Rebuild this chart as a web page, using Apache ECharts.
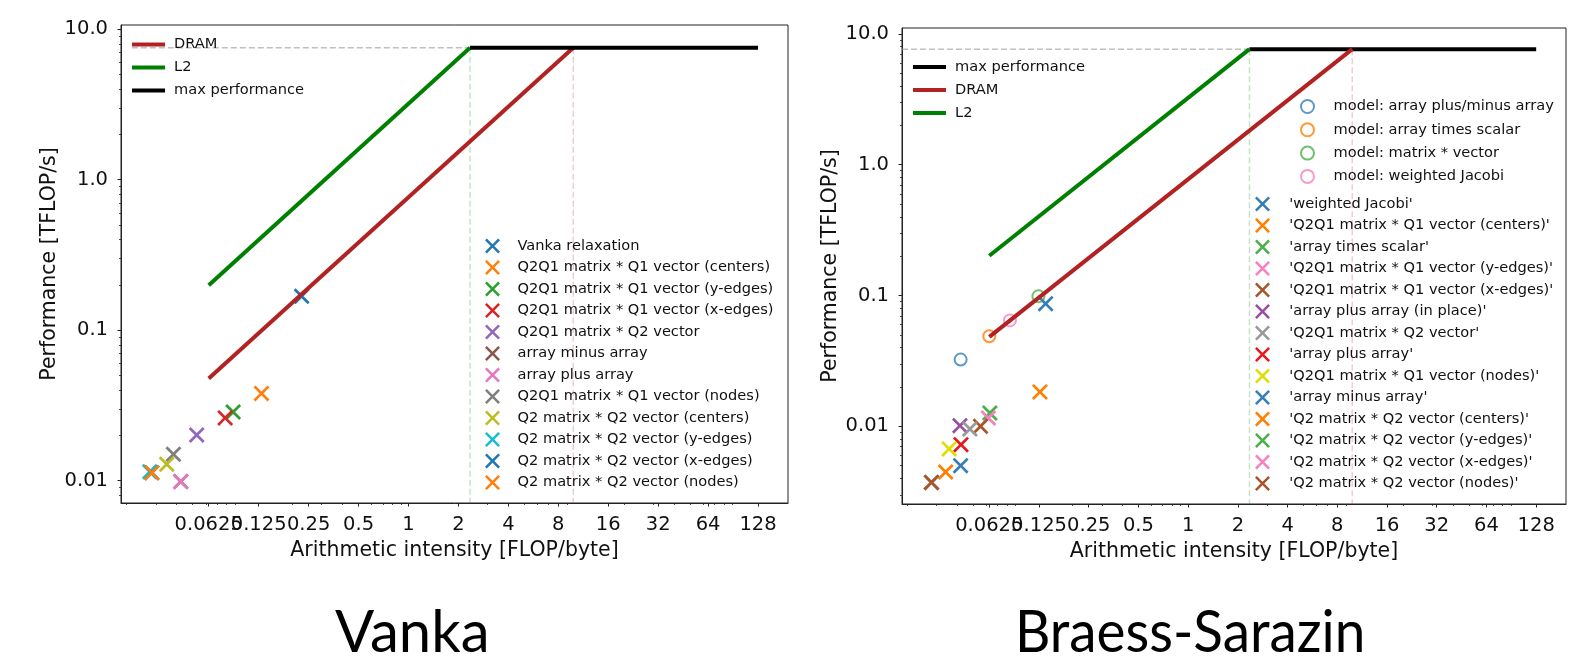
<!DOCTYPE html>
<html><head><meta charset="utf-8">
<script src="https://cdn.jsdelivr.net/npm/echarts@6/dist/echarts.min.js"></script>
<style>html,body{margin:0;padding:0;background:#fff;} #c{width:1585px;height:667px;}</style>
</head><body><div id="c"></div>
<script>
// ---------------- data ----------------
const xTickValues = [0.0625, 0.125, 0.25, 0.5, 1, 2, 4, 8, 16, 32, 64, 128];
const xTickLabels = ['0.0625', '0.125', '0.25', '0.5', '1', '2', '4', '8', '16', '32', '64', '128'];
const xMinorTicks = [0.02, 0.03, 0.04, 0.05, 0.06, 0.07, 0.08, 0.09,
  0.2, 0.3, 0.4, 0.5, 0.6, 0.7, 0.8, 0.9, 2, 3, 4, 5, 6, 7, 8, 9,
  20, 30, 40, 50, 60, 70, 80, 90];
const yTickValues = [0.01, 0.1, 1, 10];
const yTickLabels = ['0.01', '0.1', '1.0', '10.0'];
const yMinorTicksVanka = [0.008, 0.009, 0.02, 0.03, 0.04, 0.05, 0.06, 0.07, 0.08, 0.09,
  0.2, 0.3, 0.4, 0.5, 0.6, 0.7, 0.8, 0.9, 2, 3, 4, 5, 6, 7, 8, 9];
const yMinorTicksBS = [0.003, 0.004, 0.005, 0.006, 0.007, 0.008, 0.009, 0.02, 0.03, 0.04, 0.05, 0.06, 0.07, 0.08, 0.09,
  0.2, 0.3, 0.4, 0.5, 0.6, 0.7, 0.8, 0.9, 2, 3, 4, 5, 6, 7, 8, 9];

const xRange = [0.0185, 194];
const vankaYRange = [0.0071, 10.68];
const bsYRange = [0.00255, 11.1];

// Vanka rooflines
const vankaDram = [[0.0625, 0.0478], [9.85, 7.55]];
const vankaL2 = [[0.0625, 0.199], [2.35, 7.55]];
const vankaMax = [[2.35, 7.55], [128, 7.55]];
const vankaPeakGuide = [[0.0215, 7.55], [2.35, 7.55]];
const vankaL2Guide = [[2.35, 7.55], [2.35, 0.0071]];
const vankaDramGuide = [[9.85, 7.55], [9.85, 0.0071]];

// Vanka measurements
const vankaNames = ['Vanka relaxation', 'Q2Q1 matrix * Q1 vector (centers)', 'Q2Q1 matrix * Q1 vector (y-edges)',
  'Q2Q1 matrix * Q1 vector (x-edges)', 'Q2Q1 matrix * Q2 vector', 'array minus array', 'array plus array',
  'Q2Q1 matrix * Q1 vector (nodes)', 'Q2 matrix * Q2 vector (centers)', 'Q2 matrix * Q2 vector (y-edges)',
  'Q2 matrix * Q2 vector (x-edges)', 'Q2 matrix * Q2 vector (nodes)'];
const vankaX = [0.227, 0.130, 0.0877, 0.0785, 0.0529, 0.0424, 0.0424, 0.0383, 0.0349, 0.0276, 0.0284, 0.0284];
const vankaY = [0.168, 0.0380, 0.0286, 0.0261, 0.0201, 0.00985, 0.00985, 0.01497, 0.01285, 0.01145, 0.0113, 0.0113];
const vankaColors = ['#1f77b4', '#ff7f0e', '#2ca02c', '#d62728', '#9467bd', '#8c564b', '#e377c2',
  '#7f7f7f', '#bcbd22', '#17becf', '#1f77b4', '#ff7f0e'];

// Braess-Sarazin rooflines
const bsDram = [[0.0625, 0.0483], [9.85, 7.65]];
const bsL2 = [[0.0625, 0.2014], [2.35, 7.65]];
const bsMax = [[2.35, 7.65], [128, 7.65]];
const bsPeakGuide = [[0.0185, 7.65], [2.35, 7.65]];
const bsL2Guide = [[2.35, 7.65], [2.35, 0.00255]];
const bsDramGuide = [[9.85, 7.65], [9.85, 0.00255]];

// Braess-Sarazin model points
const modelNames = ['model: array plus/minus array', 'model: array times scalar', 'model: matrix * vector', 'model: weighted Jacobi'];
const modelX = [0.0419, 0.0625, 0.1239, 0.0833];
const modelY = [0.0324, 0.0488, 0.0986, 0.0646];

// Braess-Sarazin measurements
const bsNames = ["'weighted Jacobi'", "'Q2Q1 matrix * Q1 vector (centers)'", "'array times scalar'",
  "'Q2Q1 matrix * Q1 vector (y-edges)'", "'Q2Q1 matrix * Q1 vector (x-edges)'", "'array plus array (in place)'",
  "'Q2Q1 matrix * Q2 vector'", "'array plus array'", "'Q2Q1 matrix * Q1 vector (nodes)'", "'array minus array'",
  "'Q2 matrix * Q2 vector (centers)'", "'Q2 matrix * Q2 vector (y-edges)'", "'Q2 matrix * Q2 vector (x-edges)'",
  "'Q2 matrix * Q2 vector (nodes)'"];
const bsX = [0.137, 0.1266, 0.0630, 0.0617, 0.0553, 0.0415, 0.0477, 0.0421, 0.0357, 0.0419, 0.0340, 0.0279, 0.0279, 0.0279];
const bsY = [0.0867, 0.01833, 0.01266, 0.01159, 0.0100, 0.01012, 0.00955, 0.00725, 0.00672, 0.00501, 0.00448, 0.00373, 0.00373, 0.00373];
const cbColors = ['#377eb8', '#ff7f00', '#4daf4a', '#f781bf', '#a65628', '#984ea3', '#999999', '#e41a1c', '#dede00'];

// ---------------- styles ----------------
const FONT = 'DejaVu Sans';
const TXT = '#111';
const XSYM = 'path://M0,1.2 L1.2,0 L5,3.8 L8.8,0 L10,1.2 L6.2,5 L10,8.8 L8.8,10 L5,6.2 L1.2,10 L0,8.8 L3.8,5 Z';
const LINEICON = 'path://M0,0 L33,0 L33,4 L0,4 Z';

// labels split over two overlaid axes so the overlapping pair is not auto-hidden
const xLabelsEven = xTickValues.filter(function (v, i) { return i % 2 === 0; });
const xLabelsOdd = xTickValues.filter(function (v, i) { return i % 2 === 1; });

function labelFor(values, labels) {
  return function (v) {
    let best = 0, bd = Infinity;
    for (let i = 0; i < values.length; i++) {
      const d = Math.abs(Math.log(v) - Math.log(values[i]));
      if (d < bd) { bd = d; best = i; }
    }
    return bd < 1e-3 ? labels[best] : '';
  };
}
const xLabelStyle = { fontSize: 19.5, fontFamily: FONT, color: TXT, margin: 12, hideOverlap: false,
  showMinLabel: true, showMaxLabel: true, formatter: labelFor(xTickValues, xTickLabels) };

function mainX(gi, name) {
  return {
    gridIndex: gi, type: 'log', logBase: 2, min: xRange[0], max: xRange[1], position: 'bottom',
    axisLine: { show: true, lineStyle: { color: '#222', width: 1 } },
    axisTick: { show: true, length: 3.5, customValues: xTickValues, lineStyle: { color: '#222', width: 1 } },
    axisLabel: Object.assign({ show: true, customValues: xLabelsEven }, xLabelStyle),
    splitLine: { show: false }, minorTick: { show: false }, minorSplitLine: { show: false },
    name: name, nameLocation: 'middle', nameGap: 32,
    nameTextStyle: { fontSize: 20.5, fontFamily: FONT, color: TXT }
  };
}
function minorX(gi) {
  return {
    gridIndex: gi, type: 'log', logBase: 2, min: xRange[0], max: xRange[1], position: 'bottom',
    axisLine: { show: false },
    axisTick: { show: true, length: 2, customValues: xMinorTicks, lineStyle: { color: '#222', width: 0.8 } },
    axisLabel: Object.assign({ show: true, customValues: xLabelsOdd }, xLabelStyle),
    splitLine: { show: false }
  };
}
function mainY(gi, range, name) {
  return {
    gridIndex: gi, type: 'log', logBase: 10, min: range[0], max: range[1], position: 'left',
    axisLine: { show: true, lineStyle: { color: '#222', width: 1 } },
    axisTick: { show: true, length: 3.5, customValues: yTickValues, lineStyle: { color: '#222', width: 1 } },
    axisLabel: { show: true, customValues: yTickValues, formatter: labelFor(yTickValues, yTickLabels),
      fontSize: 19.5, fontFamily: FONT, color: TXT, margin: 13, showMinLabel: true, showMaxLabel: true },
    splitLine: { show: false }, minorTick: { show: false },
    name: name, nameLocation: 'middle', nameGap: 61,
    nameTextStyle: { fontSize: 20.5, fontFamily: FONT, color: TXT }
  };
}
function minorY(gi, range, ticks) {
  return {
    gridIndex: gi, type: 'log', logBase: 10, min: range[0], max: range[1], position: 'left',
    axisLine: { show: false },
    axisTick: { show: true, length: 2, customValues: ticks, lineStyle: { color: '#222', width: 0.8 } },
    axisLabel: { show: false }, splitLine: { show: false }
  };
}

function lineSeries(name, data, color, xi, yi) {
  return { type: 'line', name: name, data: data, xAxisIndex: xi, yAxisIndex: yi, symbol: 'none',
    lineStyle: { color: color, width: 4 }, itemStyle: { color: color }, z: 4, silent: true, animation: false };
}
function guideSeries(data, color, xi, yi) {
  return { type: 'line', name: '_guide', data: data, xAxisIndex: xi, yAxisIndex: yi, symbol: 'none',
    lineStyle: { color: color, width: 1.5, type: [6, 3] }, z: 1, silent: true, animation: false };
}

const series = [];
// Vanka (x axis 0, y axis 0)
series.push(guideSeries(vankaPeakGuide, 'rgba(150,150,150,0.6)', 0, 0));
series.push(guideSeries(vankaL2Guide, 'rgba(0,128,0,0.22)', 0, 0));
series.push(guideSeries(vankaDramGuide, 'rgba(178,34,34,0.22)', 0, 0));
vankaNames.forEach(function (n, i) {
  series.push({ type: 'scatter', name: n, xAxisIndex: 0, yAxisIndex: 0, data: [[vankaX[i], vankaY[i]]],
    symbol: XSYM, symbolSize: 16, itemStyle: { color: vankaColors[i], opacity: 1 }, z: 2, animation: false });
});
series.push(lineSeries('DRAM', vankaDram, '#b22222', 0, 0));
series.push(lineSeries('L2', vankaL2, '#008000', 0, 0));
series.push(lineSeries('max performance', vankaMax, '#000000', 0, 0));

// Braess-Sarazin (x axis 2, y axis 2)
series.push(guideSeries(bsPeakGuide, 'rgba(150,150,150,0.6)', 2, 2));
series.push(guideSeries(bsL2Guide, 'rgba(0,128,0,0.22)', 2, 2));
series.push(guideSeries(bsDramGuide, 'rgba(178,34,34,0.22)', 2, 2));
modelNames.forEach(function (n, i) {
  series.push({ type: 'scatter', name: n, xAxisIndex: 2, yAxisIndex: 2, data: [[modelX[i], modelY[i]]],
    symbol: 'emptyCircle', symbolSize: 12,
    itemStyle: { color: cbColors[i], borderColor: cbColors[i], borderWidth: 1.2 }, z: 2, animation: false });
});
bsNames.forEach(function (n, i) {
  series.push({ type: 'scatter', name: n, xAxisIndex: 2, yAxisIndex: 2, data: [[bsX[i], bsY[i]]],
    symbol: XSYM, symbolSize: 16, itemStyle: { color: cbColors[i % cbColors.length], opacity: 1 }, z: 2, animation: false });
});
series.push(lineSeries('max performance', bsMax, '#000000', 2, 2));
series.push(lineSeries('DRAM', bsDram, '#b22222', 2, 2));
series.push(lineSeries('L2', bsL2, '#008000', 2, 2));

const legendText = { fontSize: 14.6, fontFamily: FONT, color: TXT };
function legend(data, left, top, w, h, gap, extra) {
  return Object.assign({ data: data, orient: 'vertical', left: left, top: top, itemWidth: w, itemHeight: h,
    itemGap: gap, textStyle: legendText, selectedMode: false, padding: 0, backgroundColor: 'transparent' }, extra || {});
}
function lineItems(names) { return names.map(function (n) { return { name: n, icon: LINEICON }; }); }

const option = {
  backgroundColor: '#fff',
  animation: false,
  grid: [
    { left: 121, top: 25, width: 667, height: 478, show: true, borderColor: '#222', borderWidth: 1, backgroundColor: 'transparent', containLabel: false, outerBoundsMode: 'none' },
    { left: 902, top: 28, width: 664, height: 476, show: true, borderColor: '#222', borderWidth: 1, backgroundColor: 'transparent', containLabel: false, outerBoundsMode: 'none' }
  ],
  xAxis: [mainX(0, 'Arithmetic intensity [FLOP/byte]'), minorX(0), mainX(1, 'Arithmetic intensity [FLOP/byte]'), minorX(1)],
  yAxis: [mainY(0, vankaYRange, 'Performance [TFLOP/s]'), minorY(0, vankaYRange, yMinorTicksVanka),
          mainY(1, bsYRange, 'Performance [TFLOP/s]'), minorY(1, bsYRange, yMinorTicksBS)],
  legend: [
    legend(lineItems(['DRAM', 'L2', 'max performance']), 132, 37, 33, 14, 8, { textStyle: Object.assign({ padding: [0, 0, 0, 4] }, legendText) }),
    legend(vankaNames, 485, 238.5, 40, 15, 6.5),
    legend(lineItems(['max performance', 'DRAM', 'L2']), 913, 59.5, 33, 14, 8, { textStyle: Object.assign({ padding: [0, 0, 0, 4] }, legendText) }),
    legend(modelNames, 1300, 99, 42, 13, 8.3),
    legend(bsNames, 1255, 196.5, 43.4, 15, 6.5)
  ],
  graphic: [
    { type: 'text', left: 335, top: 604, style: { text: 'Vanka', font: '58px Lato', fill: '#000' } },
    { type: 'text', x: 1015, y: 604, scaleX: 0.945, style: { text: 'Braess-Sarazin', font: '58px Lato', fill: '#000' } }
  ],
  series: series
};

const chart = echarts.init(document.getElementById('c'), null, { renderer: 'canvas', width: 1585, height: 667 });
chart.setOption(option);
</script></body></html>
